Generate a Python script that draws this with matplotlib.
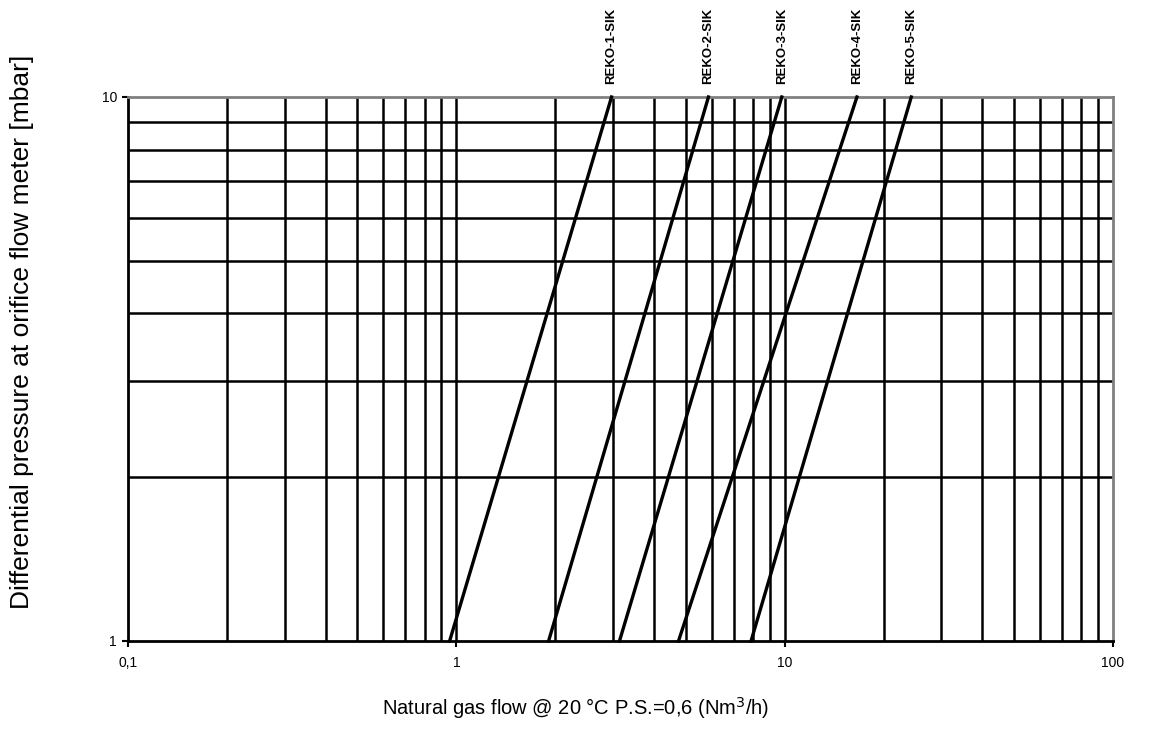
import matplotlib.pyplot as plt
from matplotlib.ticker import FixedLocator, NullFormatter

plt.rcParams['font.family'] = ['Liberation Sans', 'DejaVu Sans']

# flow at 1 mbar and at 10 mbar for each orifice
names = ["REKO-1-SIK", "REKO-2-SIK", "REKO-3-SIK", "REKO-4-SIK", "REKO-5-SIK"]
flow_low = [0.954, 1.91, 3.14, 4.75, 7.9]
flow_high = [2.97, 5.86, 9.8, 16.6, 24.3]
dp = [1, 10]

x_ticks = [0.1, 1, 10, 100]
x_labels = ["0,1", "1", "10", "100"]
y_ticks = [1, 10]
y_labels = ["1", "10"]

fig = plt.figure(figsize=(11.57, 7.31), dpi=100)
ax = fig.add_axes([128 / 1157, 90 / 731, 985 / 1157, 544 / 731])
ax.set_xscale("log")
ax.set_yscale("log")
ax.set_xlim(0.1, 100)
ax.set_ylim(1, 10)

# grid lines
grid_x = [m * 10.0 ** e for e in (-1, 0, 1) for m in range(2, 10)] + [1, 10]
grid_y = list(range(2, 10))
for gx in grid_x:
    ax.axvline(gx, color="black", lw=1.8, zorder=1)
for gy in grid_y:
    ax.axhline(gy, color="black", lw=1.8, zorder=1)

for n, lo, hi in zip(names, flow_low, flow_high):
    ax.plot([lo, hi], dp, color="black", lw=2.4, zorder=3, clip_on=False)
    ax.annotate(n, xy=(hi, 10), xytext=(0, 9), textcoords="offset points",
                rotation=90, ha="center", va="bottom", fontsize=9.5,
                fontweight="bold")

ax.xaxis.set_major_locator(FixedLocator(x_ticks))
ax.set_xticklabels(x_labels)
ax.yaxis.set_major_locator(FixedLocator(y_ticks))
ax.set_yticklabels(y_labels)
ax.xaxis.set_minor_formatter(NullFormatter())
ax.yaxis.set_minor_formatter(NullFormatter())
ax.tick_params(which="minor", length=0)
ax.tick_params(which="major", length=4, width=1.5, direction="out",
               labelsize=10, pad=7)
ax.tick_params(axis="y", pad=4)

ax.spines["left"].set_linewidth(2)
ax.spines["bottom"].set_linewidth(2)
ax.spines["top"].set_color("#808080")
ax.spines["right"].set_color("#808080")
ax.spines["top"].set_linewidth(2)
ax.spines["right"].set_linewidth(2)

fig.text(576 / 1157, 1 - 708 / 731,
         "Natural gas flow @ 20 °C P.S.=0,6 (Nm$^3$/h)",
         ha="center", va="center", fontsize=14.5)
fig.text(22 / 1157, 1 - 332 / 731,
         "Differential pressure at orifice flow meter [mbar]",
         ha="center", va="center", rotation=90, fontsize=19)

fig.savefig("out.png", dpi=100)
